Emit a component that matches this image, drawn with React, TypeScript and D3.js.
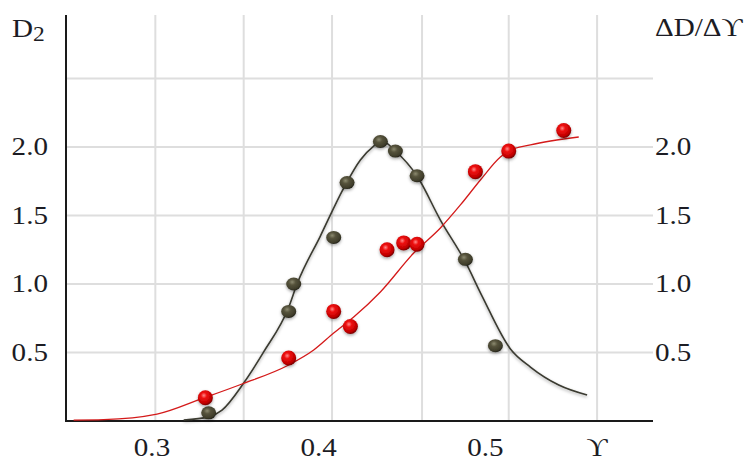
import React from "react";
import * as d3 from "d3";

// tick values
const xTicks = [0.3, 0.4, 0.5];
const yTicks = [0.5, 1.0, 1.5, 2.0];
const yGrid = [0.5, 1.0, 1.5, 2.0, 2.5];
// vertical grid lines don't sit on the labelled values in the original figure
const xGrid = [0.302, 0.355, 0.408, 0.462, 0.514, 0.567];

// D2 (red) measured points and fitted curve
const d2Points: [number, number][] = [
  [0.332, 0.17], [0.382, 0.46], [0.409, 0.8], [0.419, 0.69], [0.441, 1.25],
  [0.451, 1.3], [0.459, 1.29], [0.494, 1.82], [0.514, 1.97], [0.547, 2.12],
];
const d2Curve: [number, number][] = [
  [0.253, 0.007], [0.271, 0.01], [0.303, 0.05], [0.331, 0.168], [0.354, 0.27],
  [0.382, 0.409], [0.397, 0.518], [0.409, 0.642], [0.421, 0.759], [0.437, 0.942],
  [0.457, 1.226], [0.473, 1.409], [0.485, 1.577], [0.497, 1.759], [0.509, 1.927],
  [0.514, 1.971], [0.527, 2.015], [0.556, 2.073],
];

// dD/dY (dark) measured points and fitted curve
const ddPoints: [number, number][] = [
  [0.334, 0.06], [0.382, 0.8], [0.385, 1.0], [0.409, 1.34], [0.417, 1.74],
  [0.437, 2.04], [0.446, 1.97], [0.459, 1.79], [0.488, 1.18], [0.506, 0.55],
];
const ddCurve: [number, number][] = [
  [0.319, 0.007], [0.334, 0.03], [0.342, 0.08], [0.355, 0.277], [0.367, 0.504],
  [0.382, 0.83], [0.387, 1.0], [0.401, 1.35], [0.415, 1.7], [0.425, 1.905],
  [0.433, 2.007], [0.438, 2.044], [0.446, 1.971], [0.459, 1.788], [0.473, 1.467],
  [0.488, 1.161], [0.498, 0.912], [0.515, 0.526], [0.527, 0.394], [0.544, 0.263],
  [0.561, 0.19],
];

const W = 747;
const H = 462;
const left = 66, right = 653, top = 15, bottom = 421;
const font = "'Liberation Serif', 'DejaVu Serif', serif";
const sx = 1.12;

export default function App() {
  const x = d3.scaleLinear().domain([0.3, 0.4]).range([152, 318.7]);
  const y = d3.scaleLinear().domain([0, 2]).range([bottom, 147]);

  const line = d3
    .line<[number, number]>()
    .x(d => x(d[0]))
    .y(d => y(d[1]))
    .curve(d3.curveMonotoneX);

  const label = (tx: number, ty: number, text: React.ReactNode, anchor = "start", key?: any) => (
    <g key={key} transform={`translate(${tx},${ty}) scale(${sx},1)`}>
      <text textAnchor={anchor} fontFamily={font} fontSize={26} fill="#1c1c24">
        {text}
      </text>
    </g>
  );

  return (
    <div style={{ position: "absolute", left: 0, top: 0 }}>
      <svg width={W} height={H} style={{ display: "block", background: "#fff" }}>
        <defs>
          <radialGradient id="redBall" cx="0.4" cy="0.35" r="0.65">
            <stop offset="0" stopColor="#ff8a8a" />
            <stop offset="0.3" stopColor="#ee1010" />
            <stop offset="0.8" stopColor="#c00000" />
            <stop offset="1" stopColor="#7a0000" />
          </radialGradient>
          <radialGradient id="darkBall" cx="0.4" cy="0.35" r="0.65">
            <stop offset="0" stopColor="#8c8a70" />
            <stop offset="0.35" stopColor="#56533c" />
            <stop offset="0.85" stopColor="#3e3c2a" />
            <stop offset="1" stopColor="#24231a" />
          </radialGradient>
          <filter id="shadow" x="-50%" y="-50%" width="200%" height="200%">
            <feDropShadow dx="0" dy="1.5" stdDeviation="1.5" floodColor="#000" floodOpacity="0.35" />
          </filter>
        </defs>

        {/* grid */}
        {yGrid.map(v => (
          <line key={"gy" + v} x1={left} x2={right} y1={y(v)} y2={y(v)} stroke="#dedede" strokeWidth={2} />
        ))}
        {xGrid.map(v => (
          <line key={"gx" + v} x1={x(v)} x2={x(v)} y1={top} y2={bottom} stroke="#dedede" strokeWidth={2} />
        ))}

        {/* axes */}
        <line x1={left} x2={left} y1={top} y2={bottom + 1} stroke="#1a1a1a" strokeWidth={2} />
        <line x1={left - 1} x2={right} y1={bottom} y2={bottom} stroke="#1a1a1a" strokeWidth={2} />

        {/* curves */}
        <path d={line(ddCurve) || ""} fill="none" stroke="#3a3a30" strokeWidth={1.6} filter="url(#shadow)" />
        <path d={line(d2Curve) || ""} fill="none" stroke="#d41a1a" strokeWidth={1.3} />

        {/* points */}
        {ddPoints.map((d, i) => (
          <ellipse key={"dp" + i} cx={x(d[0])} cy={y(d[1])} rx={7.5} ry={6.5} fill="url(#darkBall)" filter="url(#shadow)" />
        ))}
        {d2Points.map((d, i) => (
          <circle key={"rp" + i} cx={x(d[0])} cy={y(d[1])} r={7.5} fill="url(#redBall)" filter="url(#shadow)" />
        ))}

        {/* left tick labels */}
        {yTicks.map(v => label(48, y(v) + 8, v.toFixed(1), "end", "ly" + v))}
        {/* right tick labels */}
        {yTicks.map(v => label(655, y(v) + 8, v.toFixed(1), "start", "ry" + v))}
        {/* bottom tick labels */}
        {xTicks.map(v => label(x(v), 456, v.toFixed(1), "middle", "bx" + v))}
        {label(x(xGrid[xGrid.length - 1]), 456, "ϒ", "middle", "ytitle")}

        {/* axis titles */}
        <g transform={`translate(12,36.5) scale(${sx},1)`}>
          <text fontFamily={font} fontSize={26} fill="#1c1c24">
            D<tspan fontSize={21} dy={4}>2</tspan>
          </text>
        </g>
        {label(655, 36, "ΔD/Δϒ", "start", "rtitle")}
      </svg>
    </div>
  );
}
